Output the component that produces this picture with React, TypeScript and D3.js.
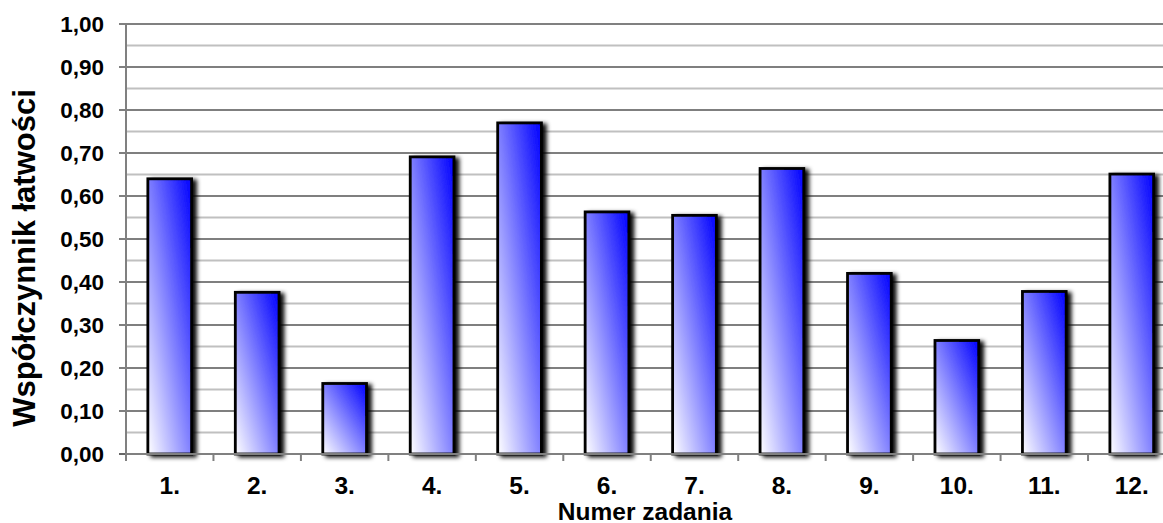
import React from "react";
import * as d3 from "d3";

const categories = ["1.", "2.", "3.", "4.", "5.", "6.", "7.", "8.", "9.", "10.", "11.", "12."];
const values = [0.64, 0.376, 0.164, 0.691, 0.77, 0.563, 0.555, 0.664, 0.42, 0.264, 0.378, 0.651];
const majorTicks = [0, 0.1, 0.2, 0.3, 0.4, 0.5, 0.6, 0.7, 0.8, 0.9, 1.0];
const minorTicks = [0.05, 0.15, 0.25, 0.35, 0.45, 0.55, 0.65, 0.75, 0.85, 0.95];
const yTitle = "Współczynnik łatwości";
const xTitle = "Numer zadania";

const W = 1163;
const H = 523;
const left = 126;
const right = 1175.5;
const top = 24;
const bottom = 454;

export default function App() {
  const x = d3.scaleBand<string>().domain(categories).range([left, right]).paddingInner(0.5).paddingOuter(0.25);
  const xCat = d3.scaleBand<string>().domain(categories).range([left, right]);
  const y = d3.scaleLinear().domain([0, 1]).range([bottom, top]);
  const fmt = (v: number) => d3.format(".2f")(v).replace(".", ",");
  const font = "Arial, 'Liberation Sans', sans-serif";

  return (
    <svg width={W} height={H} style={{ position: "absolute", left: 0, top: 0, background: "#fff" }}>
      <defs>
        <linearGradient id="barGrad" x1="0" y1="1" x2="1" y2="0">
          <stop offset="0" stopColor="#ffffff" />
          <stop offset="1" stopColor="#0000ff" />
        </linearGradient>
        <filter id="barShadow" x="-20%" y="-20%" width="160%" height="140%">
          <feDropShadow dx="4" dy="2" stdDeviation="2.2" floodColor="#000" floodOpacity="0.95" />
        </filter>
      </defs>

      {/* minor grid lines */}
      {minorTicks.map((t) => (
        <line key={"mi" + t} x1={left} x2={W} y1={y(t)} y2={y(t)} stroke="#c0c0c0" strokeWidth={2} />
      ))}
      {/* major grid lines */}
      {majorTicks.filter((t) => t > 0 && t < 1).map((t) => (
        <line key={"ma" + t} x1={left - 7} x2={W} y1={y(t)} y2={y(t)} stroke="#000" strokeWidth={1.2} />
      ))}
      <line x1={left - 7} x2={W} y1={y(1)} y2={y(1)} stroke="#808080" strokeWidth={2} />
      <line x1={left - 7} x2={left} y1={y(0)} y2={y(0)} stroke="#000" strokeWidth={1.2} />

      {/* bars */}
      {values.map((v, i) => (
        <rect
          key={categories[i]}
          x={x(categories[i])}
          y={y(v)}
          width={x.bandwidth()}
          height={y(0) - y(v)}
          fill="url(#barGrad)"
          stroke="#000"
          strokeWidth={2.8}
          filter="url(#barShadow)"
        />
      ))}

      {/* axes */}
      <line x1={left} x2={W} y1={bottom} y2={bottom} stroke="#808080" strokeWidth={2} />
      <line x1={left} x2={left} y1={top} y2={bottom + 7} stroke="#808080" strokeWidth={2} />
      {categories.map((c) => (
        <line key={"xt" + c} x1={(xCat(c) as number) + xCat.bandwidth()} x2={(xCat(c) as number) + xCat.bandwidth()} y1={bottom} y2={bottom + 7} stroke="#808080" strokeWidth={2} />
      ))}

      {/* y tick labels */}
      {majorTicks.map((t) => (
        <text key={"yl" + t} x={104} y={y(t) + 8} textAnchor="end" fontFamily={font} fontWeight="bold" fontSize={22.5} fill="#000">
          {fmt(t)}
        </text>
      ))}

      {/* x tick labels */}
      {categories.map((c) => (
        <text key={"xl" + c} x={(xCat(c) as number) + xCat.bandwidth() / 2} y={494} textAnchor="middle" fontFamily={font} fontWeight="bold" fontSize={24.5} fill="#000">
          {c}
        </text>
      ))}

      <text x={645} y={520} textAnchor="middle" fontFamily={font} fontWeight="bold" fontSize={24.5} fill="#000">
        {xTitle}
      </text>
      <text transform={`translate(35, 258) rotate(-90)`} textAnchor="middle" fontFamily={font} fontWeight="bold" fontSize={31} fill="#000">
        {yTitle}
      </text>
    </svg>
  );
}
